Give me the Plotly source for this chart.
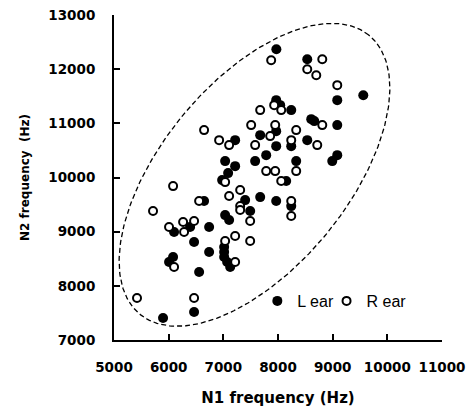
import numpy as np
import plotly.graph_objects as go

# L ear (filled) N1, N2 frequencies (Hz)
l_n1 = [7970, 8535, 9084, 9560, 7967, 8040, 8242, 8608, 8663, 9084,
        7967, 7674, 7967, 8242, 8535, 7784, 7582, 8333, 9084, 8993,
        7216, 7033, 7216, 7088, 6978, 8150, 7674, 7967, 8242, 7399,
        7491, 6648, 7033, 7106, 6099, 6392, 6740, 6465, 7015, 7015,
        7015, 7070, 7125, 6740, 6081, 6007, 6557, 5897, 6465]
l_n2 = [12369, 12184, 11428, 11520, 11428, 11336, 11244, 11077, 11041, 10967,
        10856, 10782, 10579, 10579, 10690, 10413, 10303, 10303, 10413, 10303,
        10690, 10303, 10210, 10081, 9952, 9934, 9638, 9565, 9472, 9583,
        9380, 9565, 9306, 9214, 8993, 9085, 9085, 8808, 8716, 8624,
        8531, 8439, 8347, 8624, 8531, 8439, 8255, 7406, 7517]

# R ear (open) N1, N2 frequencies (Hz)
r_n1 = [7875, 8810, 8535, 8700, 9084, 7930, 8059, 7674, 8810, 7509,
        7949, 8333, 7857, 7582, 8242, 8718, 6648, 6923, 7106, 7784,
        7949, 8333, 7033, 6081, 8059, 7106, 7308, 8242, 8242, 6557,
        7308, 7308, 7491, 5714, 6007, 6264, 6282, 6465, 7033, 7216,
        7491, 7216, 6099, 5421, 6465]
r_n2 = [12166, 12184, 12000, 11889, 11705, 11336, 11244, 11244, 10967, 10967,
        10967, 10875, 10764, 10598, 10690, 10598, 10875, 10690, 10598, 10118,
        10118, 10118, 9915, 9841, 9934, 9657, 9768, 9565, 9288, 9565,
        9472, 9399, 9196, 9380, 9085, 9177, 8993, 9196, 8827, 8919,
        8827, 8439, 8347, 7775, 7775]

x_ticks = [5000, 6000, 7000, 8000, 9000, 10000, 11000]
y_ticks = [7000, 8000, 9000, 10000, 11000, 12000, 13000]

# confidence ellipse parameters (data units)
ell_cx, ell_cy = 7570, 10050
ell_a, ell_b = 3320, 1710
ell_angle_deg = 51

t = np.linspace(0, 2 * np.pi, 300)
th = np.deg2rad(ell_angle_deg)
ex = ell_cx + ell_a * np.cos(t) * np.cos(th) - ell_b * np.sin(t) * np.sin(th)
ey = ell_cy + ell_a * np.cos(t) * np.sin(th) + ell_b * np.sin(t) * np.cos(th)

fig = go.Figure()
fig.add_trace(go.Scatter(x=ex, y=ey, mode="lines", showlegend=False,
                         line=dict(color="black", width=1.3, dash="5px,3px"),
                         hoverinfo="skip"))
fig.add_trace(go.Scatter(x=l_n1, y=l_n2, mode="markers", name="L ear", legend="legend",
                         marker=dict(symbol="circle", size=10, color="black",
                                     line=dict(width=0))))
fig.add_trace(go.Scatter(x=r_n1, y=r_n2, mode="markers", name="R ear", legend="legend2",
                         marker=dict(symbol="circle", size=8, color="white",
                                     line=dict(width=2, color="black"))))

legfont = dict(family="Liberation Sans", size=16, color="black")
tickfont = dict(family="DejaVu Sans", size=13.5, color="black", weight="bold")
fig.update_layout(
    width=467, height=407,
    margin=dict(l=114, r=25, t=15, b=67, autoexpand=False),
    plot_bgcolor="white", paper_bgcolor="white",
    showlegend=True,
    legend=dict(orientation="h", x=0.437, y=0.12, xanchor="left", yanchor="middle",
                font=legfont, bgcolor="rgba(0,0,0,0)", itemwidth=30),
    legend2=dict(orientation="h", x=0.648, y=0.12, xanchor="left", yanchor="middle",
                 font=legfont, bgcolor="rgba(0,0,0,0)", itemwidth=30),
    xaxis=dict(range=[5000, 11000], tickvals=x_ticks, ticktext=[str(v) for v in x_ticks],
               showgrid=False, zeroline=False, showline=True, linecolor="black", linewidth=2,
               ticks="inside", ticklen=6, tickwidth=1.5, tickcolor="black", automargin=False,
               tickfont=tickfont, ticklabelstandoff=14,
               title=dict(text="N1 frequency (Hz)", standoff=18,
                          font=dict(family="DejaVu Sans", size=15, color="black", weight="bold"))),
    yaxis=dict(range=[7000, 13000], tickvals=y_ticks, ticktext=[str(v) for v in y_ticks],
               showgrid=False, zeroline=False, showline=True, linecolor="black", linewidth=2,
               ticks="inside", ticklen=6, tickwidth=1.5, tickcolor="black", automargin=False,
               tickfont=tickfont, ticklabelstandoff=14,
               title=dict(text="N2 frequency  (Hz)", standoff=16,
                          font=dict(family="DejaVu Sans", size=12, color="black", weight="bold"))),
)

fig.write_html("out.html", config={"displayModeBar": False},
               post_script="document.body.style.margin='0';")
